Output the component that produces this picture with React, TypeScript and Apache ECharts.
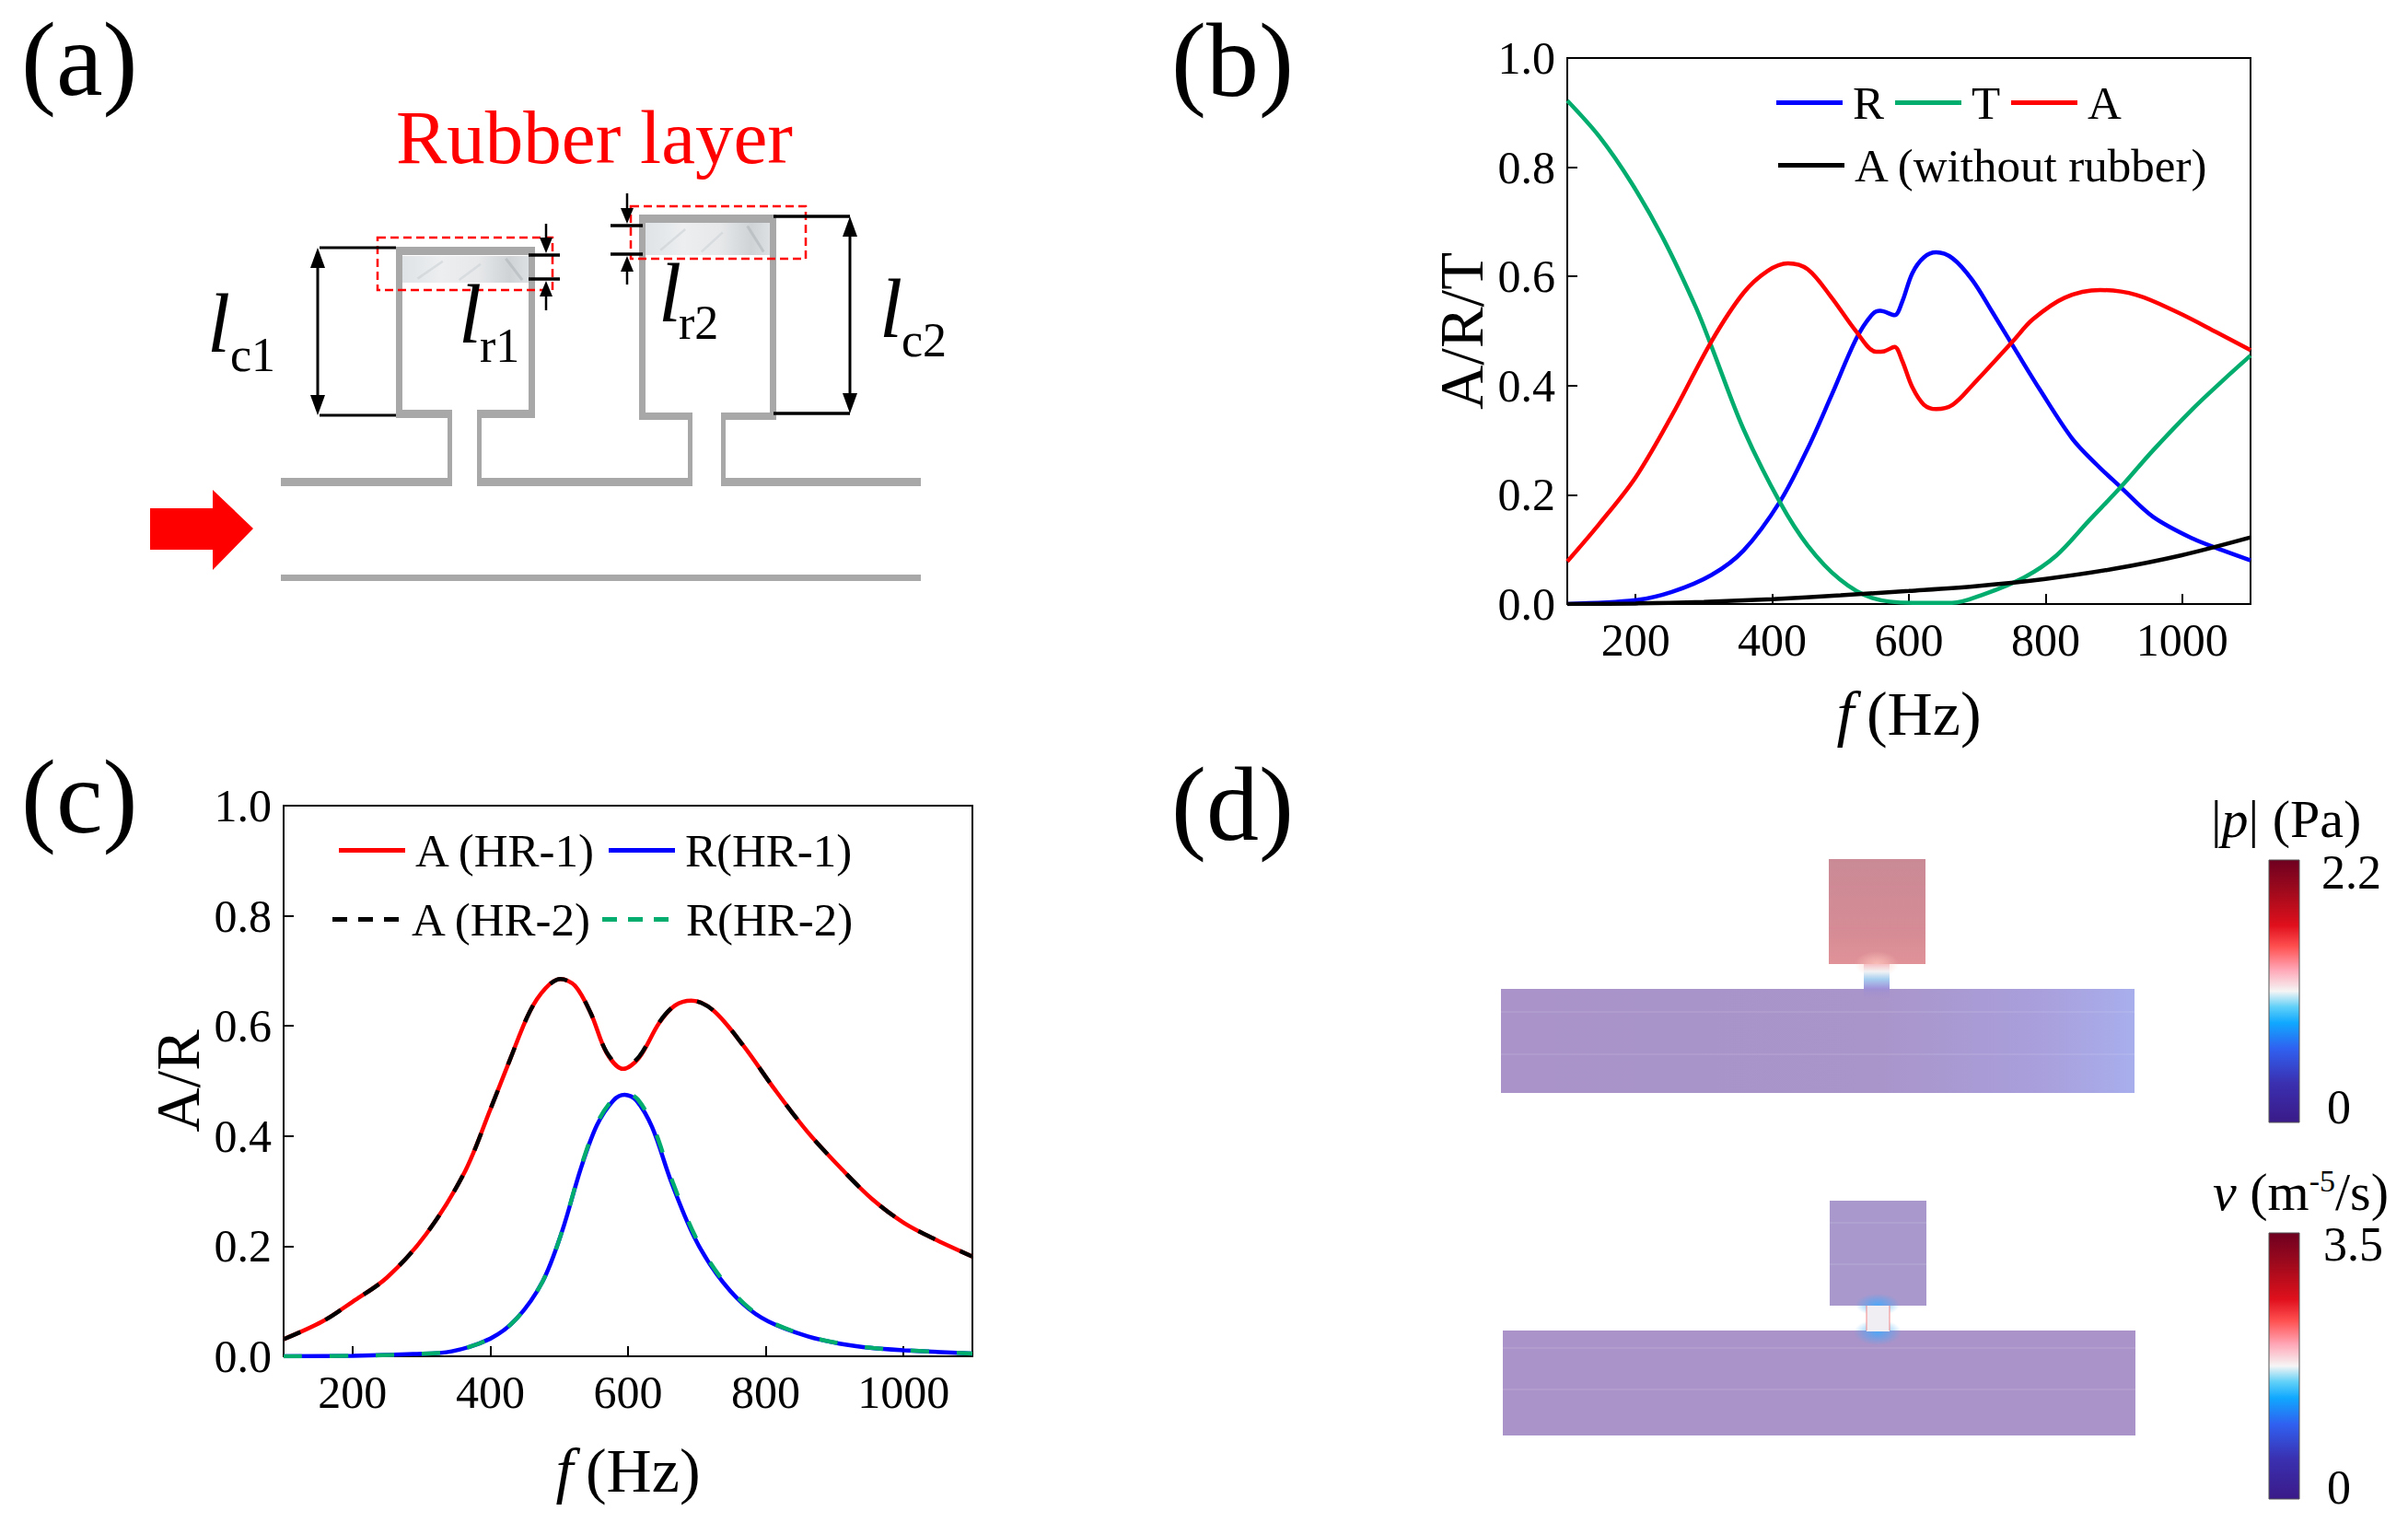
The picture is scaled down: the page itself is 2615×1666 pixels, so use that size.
import React, { useEffect, useRef } from "react";
import * as echarts from "echarts";

const FONT = "Liberation Serif";
const RED = "#ff0000";
const BLUE = "#0000ff";
const GREEN = "#00ad6e";
const BLACK = "#000000";
const WALL = "#a8a8a8";

const yTicks = [0, 0.2, 0.4, 0.6, 0.8, 1.0];
const xTicks = [200, 400, 600, 800, 1000];

// Panel (b)
const bT = [[100,.922],[147,.856],[194,.771],[241,.668],[288,.544],[311,.472],[358,.32],[411,.187],[452,.107],[499,.045],[546,.011],[605,.002],[663,.002],[710,.018],[769,.049],[816,.089],[863,.152],[910,.214],[957,.281],[1015,.357],[1060,.410],[1100,.455]];
const bR = [[100,0],[200,.007],[253,.022],[311,.053],[358,.098],[411,.187],[452,.285],[487,.383],[523,.486],[546,.530],[558,.537],[579,.529],[590,.553],[605,.606],[622,.635],[640,.644],[664,.633],[693,.593],[722,.535],[757,.463],[792,.392],[839,.303],[875,.255],[910,.214],[957,.160],[1015,.120],[1060,.098],[1100,.080]];
const bA = [[100,.078],[147,.147],[200,.232],[253,.345],[311,.481],[358,.570],[393,.610],[423,.624],[452,.613],[487,.561],[523,.499],[552,.462],[564,.463],[579,.471],[590,.446],[605,.397],[622,.365],[640,.357],[664,.365],[693,.401],[752,.481],[781,.521],[828,.561],[880,.575],[933,.566],[992,.535],[1050,.498],[1100,.465]];
const bA0 = [[100,0],[200,.001],[300,.004],[400,.009],[500,.016],[600,.024],[700,.033],[800,.046],[898,.064],[998,.089],[1100,.122]];

// Panel (c)
const cA1 = [[100,.031],[156,.063],[200,.099],[250,.143],[307,.222],[363,.335],[400,.448],[429,.540],[457,.625],[480,.668],[502,.685],[523,.673],[546,.623],[569,.551],[593,.522],[616,.542],[645,.605],[668,.637],[692,.646],[724,.628],[767,.565],[814,.483],[861,.407],[911,.339],[954,.286],[1001,.242],[1048,.211],[1100,.181]];
const cA2 = [[100,.031],[156,.063],[200,.099],[250,.143],[307,.222],[363,.335],[400,.448],[429,.540],[457,.625],[480,.668],[502,.685],[523,.673],[546,.623],[569,.552],[593,.525],[616,.544],[645,.606],[668,.637],[692,.646],[724,.628],[767,.565],[814,.483],[861,.407],[911,.339],[954,.286],[1001,.242],[1048,.211],[1100,.181]];
const cR1 = [[100,0],[200,.001],[288,.004],[344,.009],[400,.032],[438,.068],[476,.136],[504,.226],[532,.343],[555,.420],[579,.465],[595,.475],[612,.465],[635,.416],[663,.316],[696,.217],[729,.149],[767,.095],[804,.063],[861,.036],[907,.023],[954,.015],[1001,.011],[1100,.005]];
const cR2 = [[100,0],[200,.001],[288,.004],[344,.009],[400,.032],[438,.068],[476,.136],[504,.226],[532,.345],[555,.423],[579,.468],[597,.477],[614,.467],[637,.416],[665,.316],[698,.217],[731,.149],[769,.095],[806,.063],[863,.036],[909,.023],[956,.015],[1003,.011],[1100,.005]];

const colorStops = [
  [0, "#6e0020"], [0.12, "#a00a1c"], [0.25, "#e0101c"], [0.33, "#ff5050"], [0.42, "#ffa8b8"],
  [0.5, "#f5f5f5"], [0.56, "#60d0f8"], [0.62, "#10a8ff"], [0.72, "#3060f0"], [0.85, "#3a30b0"], [1, "#3a1a88"],
];

const vGrad = (stops: any[]) => ({
  type: "linear", x: 0, y: 0, x2: 0, y2: 1,
  colorStops: stops.map(([offset, color]) => ({ offset, color })),
});
const hGrad = (stops: any[]) => ({
  type: "linear", x: 0, y: 0, x2: 1, y2: 0,
  colorStops: stops.map(([offset, color]) => ({ offset, color })),
});

const rect = (x: number, y: number, w: number, h: number, fill: any) => ({
  type: "rect", shape: { x, y, width: w, height: h }, style: { fill },
});
const seg = (x1: number, y1: number, x2: number, y2: number, stroke: string, lineWidth: number, lineDash?: number[]) => ({
  type: "line", shape: { x1, y1, x2, y2 }, style: { stroke, lineWidth, lineDash },
});
const BASE = 0.3375;
const txt = (text: string, x: number, baseline: number, size: number, extra: any = {}) => ({
  type: "text",
  x,
  y: baseline - size * BASE,
  style: {
    text, fontFamily: FONT, fontSize: size, fill: BLACK,
    verticalAlign: "middle", align: "left", ...extra,
  },
});
const head = (x: number, tipY: number, dir: number, w = 8, len = 22) => ({
  type: "polygon",
  shape: { points: [[x, tipY], [x - w, tipY - dir * len], [x + w, tipY - dir * len]] },
  style: { fill: BLACK },
});
const lab = (x: number, y: number, sx: number, sub: string, sy: number) => [
  txt("l", x, y, 90, { fontStyle: "italic" }),
  txt(sub, sx, sy, 52),
];
const marble = (x: number, y: number, w: number, h: number) => [
  rect(x, y, w, h, hGrad([[0, "#dfe3e5"], [0.3, "#eceef0"], [0.6, "#e6e8ea"], [0.85, "#cfd3d6"], [1, "#dde0e2"]])),
  seg(x + w * 0.12, y + h * 0.85, x + w * 0.32, y + h * 0.2, "rgba(190,196,200,0.4)", 2.5),
  seg(x + w * 0.45, y + h * 0.9, x + w * 0.62, y + h * 0.3, "rgba(190,196,200,0.35)", 2.5),
  seg(x + w * 0.82, y + h * 0.1, x + w * 0.95, y + h * 0.9, "rgba(165,170,175,0.45)", 3),
];

const panelLetters = [
  txt("(a)", 23, 103, 114),
  txt("(b)", 1272, 104, 114),
  txt("(c)", 23, 904, 114),
  txt("(d)", 1272, 912, 114),
];

const panelA = [
  txt("Rubber layer", 430, 177, 83, { fill: RED }),
  // tube
  rect(305, 624, 695, 7, WALL),
  rect(305, 519, 186, 9, WALL), rect(518, 519, 234, 9, WALL), rect(783, 519, 217, 9, WALL),
  // necks
  rect(486, 445, 5, 83, WALL), rect(518, 445, 5, 83, WALL),
  rect(747, 448, 5, 80, WALL), rect(783, 448, 5, 80, WALL),
  // HR-1
  rect(430, 268, 151, 9, WALL), rect(430, 268, 7, 186, WALL), rect(574, 268, 7, 186, WALL),
  rect(430, 445, 61, 9, WALL), rect(518, 445, 63, 9, WALL),
  ...marble(437, 278, 137, 29),
  // HR-2
  rect(694, 233, 149, 9, WALL), rect(694, 233, 7, 222, WALL), rect(836, 233, 7, 222, WALL),
  rect(694, 448, 58, 8, WALL), rect(783, 448, 60, 8, WALL),
  ...marble(701, 242, 135, 35),
  // dashed highlights
  { type: "rect", shape: { x: 410, y: 258, width: 190, height: 57 }, style: { fill: "none", stroke: RED, lineWidth: 2.5, lineDash: [9, 5] } },
  { type: "rect", shape: { x: 685, y: 224, width: 190, height: 57 }, style: { fill: "none", stroke: RED, lineWidth: 2.5, lineDash: [9, 5] } },
  // lc1
  seg(347, 269, 430, 269, BLACK, 3), seg(347, 451, 430, 451, BLACK, 3), seg(345, 285, 345, 435, BLACK, 3),
  head(345, 269, -1), head(345, 451, 1),
  // lc2
  seg(840, 235, 923, 235, BLACK, 3.5), seg(840, 449, 923, 449, BLACK, 3.5), seg(923, 251, 923, 433, BLACK, 3),
  head(923, 235, -1), head(923, 449, 1),
  // lr1
  seg(574, 277, 608, 277, BLACK, 3.5), seg(574, 303, 608, 303, BLACK, 3.5),
  seg(593, 243, 593, 262, BLACK, 2.5), head(593, 275, 1, 7, 17),
  seg(593, 320, 593, 337, BLACK, 2.5), head(593, 305, -1, 7, 17),
  // lr2
  seg(663, 245, 698, 245, BLACK, 3.5), seg(663, 276, 698, 276, BLACK, 3.5),
  seg(681, 210, 681, 228, BLACK, 2.5), head(681, 243, 1, 7, 17),
  seg(681, 293, 681, 309, BLACK, 2.5), head(681, 278, -1, 7, 17),
  ...lab(225, 382, 250, "c1", 403),
  ...lab(498, 372, 521, "r1", 393),
  ...lab(715, 349, 737, "r2", 368),
  ...lab(955, 366, 979, "c2", 387),
  // incident wave
  { type: "polygon", shape: { points: [[163, 552], [231, 552], [231, 532], [275, 574], [231, 619], [231, 597], [163, 597]] }, style: { fill: RED } },
];

const faint = "rgba(255,255,255,0.12)";
const glow = (cx: number, cy: number, rx: number, ry: number, rgb: string, a: number) => ({
  type: "ellipse", shape: { cx, cy, rx, ry },
  style: { fill: { type: "radial", x: 0.5, y: 0.5, r: 0.5, colorStops: [{ offset: 0, color: `rgba(${rgb},${a})` }, { offset: 1, color: `rgba(${rgb},0)` }] } },
});
const panelD = [
  // pressure field
  rect(1986, 933, 105, 114, vGrad([[0, "#c98a96"], [0.7, "#d68c95"], [1, "#e09298"]])),
  glow(2038, 1047, 24, 14, "255,200,190", 0.8),
  rect(1630, 1074, 688, 113, hGrad([[0, "#a993c8"], [0.6, "#a995ca"], [0.85, "#a99fdc"], [1, "#a8aeec"]])),
  rect(2024, 1047, 28, 27, vGrad([[0, "#f6c0c4"], [0.3, "#f2f2f4"], [0.6, "#a8d0f0"], [1, "#a090d8"]])),
  rect(2024, 1074, 28, 12, vGrad([[0, "#9f90d4"], [1, "rgba(169,147,200,0)"]])),
  seg(1986, 963, 2091, 963, "rgba(230,120,160,0.3)", 1), seg(1986, 1008, 2091, 1008, "rgba(230,120,160,0.3)", 1),
  seg(1630, 1099, 2318, 1099, faint, 1.5), seg(1630, 1145, 2318, 1145, faint, 1.5),
  // velocity field
  rect(1987, 1304, 105, 114, "#a898cc"),
  rect(1632, 1445, 687, 114, "#aa93c8"),
  glow(2039, 1417, 24, 12, "60,170,255", 0.8),
  glow(2039, 1447, 26, 14, "60,170,255", 0.8),
  rect(2027, 1418, 25, 28, "#f0eef2"),
  seg(2027, 1418, 2027, 1445, "rgba(240,120,120,0.6)", 1.5), seg(2052, 1418, 2052, 1445, "rgba(240,120,120,0.6)", 1.5),
  seg(1987, 1328, 2092, 1328, faint, 1.5), seg(1987, 1373, 2092, 1373, faint, 1.5),
  seg(1632, 1464, 2319, 1464, faint, 1.5), seg(1632, 1509, 2319, 1509, faint, 1.5),
  // colour bars
  { type: "rect", shape: { x: 2464, y: 934, width: 33, height: 285 }, style: { fill: vGrad(colorStops), stroke: "#555", lineWidth: 1 } },
  { type: "rect", shape: { x: 2464, y: 1339, width: 33, height: 289 }, style: { fill: vGrad(colorStops), stroke: "#555", lineWidth: 1 } },
  {
    ...txt("", 2401, 909, 58),
    style: {
      text: "|{i|p}| (Pa)", fontFamily: FONT, fontSize: 58, fill: BLACK, verticalAlign: "middle", align: "left",
      rich: { i: { fontFamily: FONT, fontSize: 58, fontStyle: "italic", fill: BLACK } },
    },
  },
  txt("2.2", 2521, 965, 52),
  txt("0", 2527, 1220, 52),
  {
    ...txt("", 2403, 1314, 58),
    style: {
      text: "{i|v} (m{s|-5}/s)", fontFamily: FONT, fontSize: 58, fill: BLACK, verticalAlign: "middle", align: "left",
      rich: {
        i: { fontFamily: FONT, fontSize: 58, fontStyle: "italic", fill: BLACK },
        s: { fontFamily: FONT, fontSize: 34, fill: BLACK, verticalAlign: "top" },
      },
    },
  },
  txt("3.5", 2523, 1369, 52),
  txt("0", 2527, 1633, 52),
];

const line = (name: string, data: number[][], color: string, idx: number, dash?: number[]) => ({
  name, type: "line", data, xAxisIndex: idx, yAxisIndex: idx, showSymbol: false, symbol: "none",
  smooth: 0.33,
  lineStyle: { color, width: 4.5, type: dash ?? "solid" },
  itemStyle: { color },
});

const SOLID_ICON = "path://M0 0H72V5H0Z";
const DASH_ICON = "path://M0 0H16V5H0Z M28 0H44V5H28Z M56 0H72V5H56Z";

const legendItem = (name: string, left: number, centerY: number, dashed = false, pad = 6) => ({
  data: [{ name, icon: dashed ? DASH_ICON : SOLID_ICON }],
  left, top: centerY - 30, padding: 0, itemWidth: 72, itemHeight: 5,
  selectedMode: false, orient: "horizontal",
  textStyle: { fontFamily: FONT, fontSize: 51, color: BLACK, padding: [0, 0, 0, pad] },
});

const xAxis = (gridIndex: number, nameGap: number) => ({
  type: "value", gridIndex, min: 100, max: 1100,
  name: "{i|f}{n|\u2009(Hz)}", nameLocation: "middle", nameGap,
  nameTextStyle: {
    fontFamily: FONT, fontSize: 68, color: BLACK,
    rich: {
      i: { fontFamily: FONT, fontSize: 68, fontStyle: "italic", color: BLACK },
      n: { fontFamily: FONT, fontSize: 68, color: BLACK },
    },
  },
  axisLine: { show: true, lineStyle: { color: BLACK, width: 2 } },
  axisTick: { show: true, inside: true, length: 11, customValues: xTicks, lineStyle: { color: BLACK, width: 2 } },
  axisLabel: {
    customValues: xTicks, margin: 14, fontFamily: FONT, fontSize: 50, color: BLACK,
    formatter: (v: number) => String(v),
  },
  splitLine: { show: false },
});
const yAxis = (gridIndex: number, name: string) => ({
  type: "value", gridIndex, min: 0, max: 1, interval: 0.2,
  name, nameLocation: "middle", nameGap: 82,
  nameTextStyle: { fontFamily: FONT, fontSize: 67, color: BLACK },
  axisLine: { show: true, lineStyle: { color: BLACK, width: 2 } },
  axisTick: { show: true, inside: true, length: 11, lineStyle: { color: BLACK, width: 2 } },
  axisLabel: {
    customValues: yTicks, margin: 13, fontFamily: FONT, fontSize: 50, color: BLACK,
    formatter: (v: number) => v.toFixed(1),
  },
  splitLine: { show: false },
});

export default function App() {
  const ref = useRef<HTMLDivElement>(null);
  useEffect(() => {
    document.body.style.margin = "0";
    const chart = echarts.init(ref.current!, null, { renderer: "svg" });
    chart.setOption({
      animation: false,
      backgroundColor: "#ffffff",
      grid: [
        { left: 1702, top: 63, width: 742, height: 593, show: true, borderColor: BLACK, borderWidth: 2, backgroundColor: "transparent" },
        { left: 308, top: 875, width: 748, height: 598, show: true, borderColor: BLACK, borderWidth: 2, backgroundColor: "transparent" },
      ],
      xAxis: [xAxis(0, 85), xAxis(1, 90)],
      yAxis: [yAxis(0, "A/R/T"), yAxis(1, "A/R")],
      legend: [
        legendItem("R", 1929, 116), legendItem("T", 2058, 116), legendItem("A", 2184, 116),
        legendItem("A (without rubber)", 1931, 184),
        legendItem("A (HR-1)", 368, 928), legendItem("R(HR-1)", 661, 928),
        legendItem("A (HR-2)", 361, 1003, true, 9), legendItem("R(HR-2)", 654, 1003, true, 14),
      ],
      series: [
        line("R", bR, BLUE, 0),
        line("T", bT, GREEN, 0),
        line("A", bA, RED, 0),
        line("A (without rubber)", bA0, BLACK, 0),
        line("A (HR-1)", cA1, RED, 1),
        line("A (HR-2)", cA2, BLACK, 1, [20, 30]),
        line("R(HR-1)", cR1, BLUE, 1),
        line("R(HR-2)", cR2, GREEN, 1, [20, 30]),
      ],
      graphic: { elements: [...panelLetters, ...panelA, ...panelD] },
    });
    return () => chart.dispose();
  }, []);
  return <div ref={ref} style={{ position: "fixed", left: 0, top: 0, width: 2615, height: 1666 }} />;
}
